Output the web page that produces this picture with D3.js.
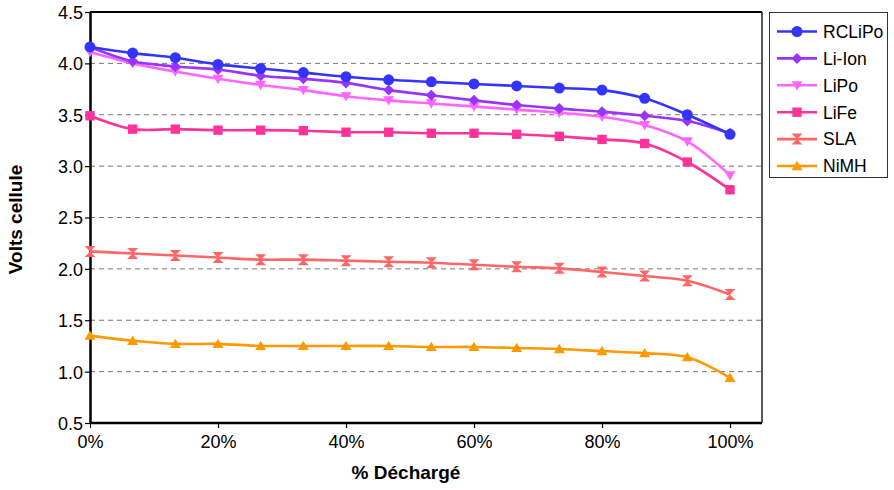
<!DOCTYPE html>
<html><head><meta charset="utf-8">
<script src="https://cdn.jsdelivr.net/npm/d3@7"></script>
<style>body{margin:0;background:#fff}svg{display:block;font-family:"Liberation Sans",Arial,sans-serif}</style>
</head><body><svg id="c" width="894" height="490"></svg>
<script>
const xFractions = [0,1/15,2/15,3/15,4/15,5/15,6/15,7/15,8/15,9/15,10/15,11/15,12/15,13/15,14/15,1];
const seriesNames = ["RCLiPo","Li-Ion","LiPo","LiFe","SLA","NiMH"];
const seriesColors = ["#3434ff","#9933ff","#ff66ff","#ff3399","#ff6666","#ff9900"];
const seriesMarkers = ["circle","diamond","triDown","square","hourglass","triUp"];
const rcLiPo = [4.16,4.10,4.055,3.99,3.95,3.91,3.87,3.84,3.82,3.80,3.78,3.76,3.74,3.66,3.50,3.31];
const liIon  = [4.16,4.02,3.97,3.94,3.88,3.85,3.81,3.74,3.69,3.64,3.595,3.56,3.53,3.49,3.44,3.32];
const liPo   = [4.11,4.00,3.92,3.85,3.79,3.74,3.68,3.64,3.61,3.58,3.55,3.52,3.48,3.40,3.24,2.91];
const liFe   = [3.49,3.36,3.36,3.35,3.35,3.345,3.33,3.33,3.32,3.32,3.31,3.29,3.26,3.22,3.04,2.77];
const sla    = [2.17,2.15,2.13,2.11,2.09,2.09,2.08,2.07,2.06,2.04,2.02,2.005,1.97,1.93,1.885,1.75];
const niMH   = [1.35,1.30,1.27,1.27,1.25,1.25,1.25,1.25,1.24,1.24,1.23,1.22,1.20,1.18,1.14,0.94];
const seriesValues = [rcLiPo,liIon,liPo,liFe,sla,niMH];
const yTicks = [0.5,1.0,1.5,2.0,2.5,3.0,3.5,4.0,4.5];
const xTicks = [0,0.2,0.4,0.6,0.8,1.0];
const xTitle = "% Déchargé";
const yTitle = "Volts cellule";

const svg = d3.select("#c");
const L = 90, R = 762, T = 12, B = 423;
const x = d3.scaleLinear().domain([0,1.05]).range([L,R]);
const y = d3.scaleLinear().domain([0.5,4.5]).range([B,T]);

// grid
svg.append("g").selectAll("line").data(yTicks.filter(v=>v>0.5 && v<4.5)).join("line")
  .attr("x1",L).attr("x2",R).attr("y1",d=>y(d)).attr("y2",d=>y(d))
  .attr("stroke","#777").attr("stroke-width",1).attr("stroke-dasharray","5,4");

// frame top/right
svg.append("line").attr("x1",L).attr("x2",R).attr("y1",T).attr("y2",T).attr("stroke","#000").attr("stroke-width",2);
svg.append("line").attr("x1",R).attr("x2",R).attr("y1",T).attr("y2",B).attr("stroke","#222").attr("stroke-width",1.5);

// axes
const yAxis = svg.append("g").attr("transform",`translate(${L},0)`)
  .call(d3.axisLeft(y).tickValues(yTicks).tickFormat(d3.format(".1f")).tickSize(5).tickSizeOuter(0));
const xAxis = svg.append("g").attr("transform",`translate(0,${B})`)
  .call(d3.axisBottom(x).tickValues(xTicks).tickFormat(d3.format(".0%")).tickSize(5).tickSizeOuter(0));
[yAxis,xAxis].forEach(a=>{
  a.select(".domain").attr("stroke","#000").attr("stroke-width",2.5);
  a.selectAll(".tick line").attr("stroke","#000").attr("stroke-width",1.2);
  a.selectAll("text").attr("font-size",18).attr("fill","#000").attr("font-family","Liberation Sans, Arial, sans-serif");
});
yAxis.selectAll("text").attr("x",-7).attr("dy","0.36em");
xAxis.selectAll("text").attr("y",12);
xAxis.select(".domain").attr("d",`M${L},0H${R}`);

// titles
svg.append("text").attr("x",406).attr("y",479).attr("text-anchor","middle")
  .attr("font-size",19).attr("font-weight","bold").text(xTitle);
svg.append("text").attr("transform",`translate(22,${(T+B)/2+2}) rotate(-90)`).attr("text-anchor","middle")
  .attr("font-size",19).attr("font-weight","bold").text(yTitle);

function markerPath(type, s){
  switch(type){
    case "circle": return d3.symbol(d3.symbolCircle, 95)();
    case "diamond": return `M0,${-s}L${s},0L0,${s}L${-s},0Z`;
    case "square": return `M${-s*0.85},${-s*0.85}H${s*0.85}V${s*0.85}H${-s*0.85}Z`;
    case "triDown": return `M${-s},${-s*0.75}H${s}L0,${s*0.95}Z`;
    case "triUp": return `M${-s},${s*0.75}H${s}L0,${-s*0.95}Z`;
    case "hourglass": return `M${-s},${-s}H${s}L${-s},${s}H${s}Z`;
  }
}

const line = d3.line().x((d,i)=>x(xFractions[i])).y(d=>y(d)).curve(d3.curveCatmullRom.alpha(0.5));
const gS = svg.append("g");
const order = d3.range(seriesValues.length).reverse();
order.forEach(k=>{
  const vals = seriesValues[k];
  gS.append("path").attr("d",line(vals)).attr("fill","none")
    .attr("stroke",seriesColors[k]).attr("stroke-width",2.6);
  gS.append("g").selectAll("path").data(vals).join("path")
    .attr("transform",(d,i)=>`translate(${x(xFractions[i])},${y(d)})`)
    .attr("d",markerPath(seriesMarkers[k],5.5)).attr("fill",seriesColors[k]);
});

// legend
const lg = svg.append("g");
lg.append("rect").attr("x",769.5).attr("y",12.5).attr("width",118).attr("height",165)
  .attr("fill","#fff").attr("stroke","#333").attr("stroke-width",1);
seriesNames.forEach((n,k)=>{
  const yy = 31.5 + k*26.9;
  lg.append("line").attr("x1",777).attr("x2",817).attr("y1",yy).attr("y2",yy)
    .attr("stroke",seriesColors[k]).attr("stroke-width",2.6);
  lg.append("path").attr("transform",`translate(797,${yy})`).attr("d",markerPath(seriesMarkers[k],5.5)).attr("fill",seriesColors[k]);
  lg.append("text").attr("x",823).attr("y",yy).attr("dy","0.36em").attr("font-size",17.5).text(n);
});
</script></body></html>
